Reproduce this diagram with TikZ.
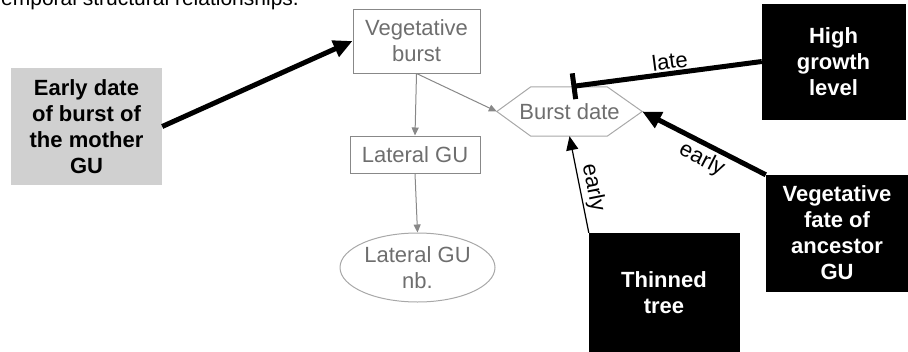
\documentclass[tikz,border=0pt]{standalone}
\usepackage{fontspec}
\setmainfont{Liberation Sans}
\usetikzlibrary{arrows.meta,shapes.geometric,calc}
\definecolor{gtxt}{HTML}{6E6E6E}
\definecolor{gline}{HTML}{888888}
\definecolor{hline}{HTML}{A8A8A8}
\definecolor{boxfill}{HTML}{D0D0D0}
\begin{document}
\begin{tikzpicture}[x=1pt,y=-1pt,
  txt/.style={font=\fontsize{22}{26}\selectfont},
  graybox/.style={draw=gline, line width=1pt, text=gtxt, txt, align=center, inner sep=0pt},
  blackbox/.style={fill=black, draw=black, text=white, font=\fontsize{22}{26}\selectfont\bfseries, align=center, inner sep=0pt},
  greyfill/.style={fill=boxfill, draw=none, text=black, font=\fontsize{22}{26}\selectfont\bfseries, align=center, inner sep=0pt},
  thinarr/.style={draw=gline, line width=1pt, -{Triangle[length=8pt,width=7pt]}},
  thickarr/.style={draw=black, line width=5pt, -{Triangle[length=19pt,width=17pt]}},
  blockarr/.style={draw=black, line width=5pt, -{Bar[width=26pt]}},
  midarr/.style={draw=black, line width=1.2pt, -{Triangle[length=14pt,width=12pt]}},
  lab/.style={txt, text=black, inner sep=2pt}]
\clip (0,0) rectangle (908,351);

\node[anchor=base west, inner sep=0pt, font=\fontsize{21}{25}\selectfont] (title) at (1,5) {emporal structural relationships.};

\node[graybox, minimum width=127pt, minimum height=64pt] (vb) at (416.5,41) {Vegetative\\burst};
\node[graybox, minimum width=130pt, minimum height=37pt] (lg) at (415,154.5) {Lateral GU};
\node[graybox, draw=hline, ellipse, minimum width=155pt, minimum height=69pt] (nb) at (417.5,267.5) {Lateral GU\\nb.};
\node[txt, text=gtxt, minimum width=145pt, minimum height=49pt, inner sep=0pt] (bd) at (569.5,111.5) {Burst date};
\draw[hline, line width=1pt] (bd.west) -- ($(bd.north west)+(34,0)$) -- ($(bd.north east)+(-35,0)$) -- (bd.east)
  -- ($(bd.south east)+(-35,0)$) -- ($(bd.south west)+(34,0)$) -- cycle;

\node[greyfill, minimum width=151pt, minimum height=117pt] (eg) at (86.5,126.5) {Early date\\of burst of\\the mother\\GU};
\node[blackbox, minimum width=143pt, minimum height=115pt] (hg) at (833.5,61.5) {High\\growth\\level};
\node[blackbox, minimum width=142pt, minimum height=116pt] (vf) at (837,233) {Vegetative\\fate of\\ancestor\\GU};
\node[blackbox, minimum width=150pt, minimum height=120pt] (tt) at (664,293) {Thinned\\tree};

\draw[thinarr] (vb.south) -- (lg.north);
\draw[thinarr] (vb.south) -- (bd.west);
\draw[thinarr] (lg.south) -- (nb.north);
\draw[thickarr] (eg.east) -- (vb.west);
\draw[blockarr, shorten >=2pt] (hg.west) -- node[lab, pos=0.47, sloped, above] {late} (bd.north);
\draw[thickarr] (vf.north west) -- node[lab, pos=0.46, sloped, below, yshift=-1pt] {early} (bd.east);
\draw[midarr] (tt.north west) -- node[lab, pos=0.44, sloped, above] {early} (bd.south);
\end{tikzpicture}
\end{document}
